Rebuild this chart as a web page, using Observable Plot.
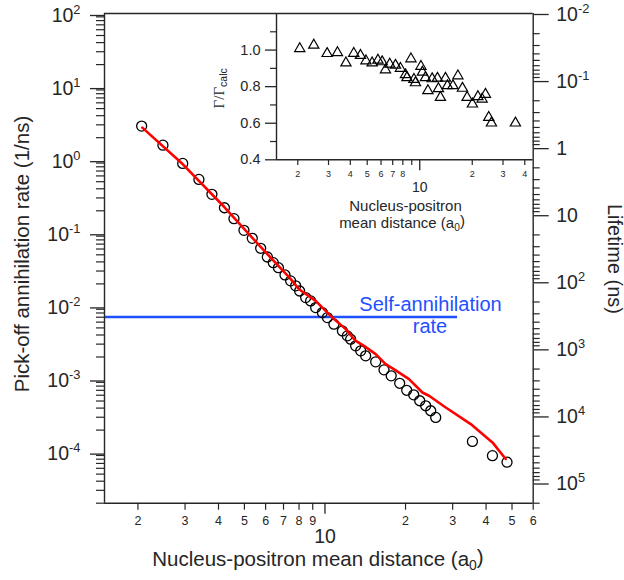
<!DOCTYPE html>
<html><head><meta charset="utf-8">
<script src="https://cdn.jsdelivr.net/npm/d3@7"></script>
<script src="https://cdn.jsdelivr.net/npm/@observablehq/plot@0.6"></script>
<style>
body{margin:0;background:#fff;}
#chart{position:relative;width:624px;height:580px;}
#chart svg{position:absolute;left:0;top:0;overflow:visible;}
</style></head><body><div id="chart"></div>
<script>
// ---------- data ----------
const distance = [2.065, 2.48, 2.94, 3.38, 3.78, 4.21, 4.57, 4.98, 5.35, 5.75, 6.09, 6.41, 6.70, 7.09, 7.44, 7.77, 8.04, 8.47, 8.84, 9.23, 9.78, 10.21, 10.80, 11.62, 12.12, 12.47, 13.02, 13.6, 14.19, 15.47, 16.62, 17.68, 19.02, 20.2, 21.46, 22.6, 23.79, 24.84, 25.93, 35.56, 42.25, 47.9];
const pickoffRate = [2.88, 1.58, 0.89, 0.538, 0.336, 0.22, 0.156, 0.108, 0.0841, 0.0614, 0.0467, 0.039, 0.0333, 0.0265, 0.022, 0.0188, 0.016, 0.013, 0.0117, 0.00948, 0.0081, 0.00692, 0.00562, 0.00455, 0.00389, 0.00351, 0.00284, 0.00243, 0.002075, 0.001718, 0.001336, 0.001106, 0.000874, 0.000701, 0.000608, 0.000504, 0.00043, 0.000368, 0.000298, 0.00014, 0.0000893, 0.0000728];
const fitDistance = [2.077, 2.938, 4.206, 5.75, 7.44, 8.0, 9.23, 10.66, 11.95, 13.02, 13.99, 15.47, 16.86, 18.38, 20.61, 23.13, 24.48, 28.27, 35.05, 42.25, 47.37];
const fitRate = [2.745, 0.871, 0.2252, 0.064, 0.0234, 0.0169, 0.0117, 0.00692, 0.00481, 0.00333, 0.00284, 0.00219, 0.0016, 0.001315, 0.000997, 0.000654, 0.00059, 0.000408, 0.000242, 0.0001357, 0.0000805];
const ratioDistance = [2.053, 2.47, 2.946, 3.376, 3.776, 4.186, 4.573, 4.917, 5.336, 5.761, 6.088, 6.36, 6.73, 7.26, 7.75, 8.28, 8.905, 8.45, 9.265, 9.45, 10.16, 10.36, 10.78, 11.14, 11.78, 12.63, 12.8, 13.14, 14.04, 14.41, 15.5, 16.55, 17.57, 18.69, 20.04, 21.55, 22.78, 23.8, 24.86, 25.76, 35.35];
const ratio = [1.008, 1.027, 0.981, 0.986, 0.930, 0.982, 0.971, 0.941, 0.930, 0.945, 0.936, 0.892, 0.923, 0.917, 0.900, 0.865, 0.952, 0.849, 0.840, 0.821, 0.911, 0.879, 0.849, 0.778, 0.843, 0.846, 0.789, 0.741, 0.846, 0.805, 0.805, 0.859, 0.791, 0.741, 0.705, 0.745, 0.732, 0.758, 0.632, 0.601, 0.601];
const selfAnnihilationRate = 0.00704;
const selfLineDistance = [1.5, 31.3];

const xDomain = [1.5, 60];
const yDomain = [2e-5, 100];
const lifetimeDomain = [0.01, 2e5];
const insetXDomain = [1.51, 44.7];
const insetYDomain = [0.4, 1.2];

const xMajorTicks = [10];
const xMinorTicks = [2, 3, 4, 5, 6, 7, 8, 9, 20, 30, 40, 50, 60];
const yMajorTicks = [1e-4, 1e-3, 1e-2, 1e-1, 1, 10, 100];
const lifetimeMajorTicks = [1e-2, 1e-1, 1, 10, 100, 1e3, 1e4, 1e5];
const insetXLabeled = [2, 3, 4, 5, 6, 7, 8, 20, 30, 40];
const insetXMinor = [2, 3, 4, 5, 6, 7, 8, 9, 20, 30, 40];
const insetXMajor = [10];
const insetYMajor = [0.4, 0.6, 0.8, 1.0];
const insetYMinor = [0.5, 0.7, 0.9, 1.1];

const xLabel = ["Nucleus-positron mean distance (a", "0", ")"];
const yLabel = "Pick-off annihilation rate (1/ns)";
const y2Label = "Lifetime (ns)";
const selfLabel = ["Self-annihilation", "rate"];
const insetXLabel = ["Nucleus-positron", "mean distance (a", "0", ")"];

// ---------- helpers ----------
function minorLogTicks(lo, hi) {
  const out = [];
  for (let e = Math.floor(Math.log10(lo)) - 1; e <= Math.ceil(Math.log10(hi)); e++)
    for (let m = 2; m <= 9; m++) { const v = m * Math.pow(10, e); if (v >= lo * 0.999 && v <= hi * 1.001) out.push(v); }
  return out;
}
const pow10 = d => "10^" + Math.round(Math.log10(d));
const mantissa = d => String(Math.round(d / Math.pow(10, Math.floor(Math.log10(d) + 1e-9))));
function superscripts(svg) {
  d3.select(svg).selectAll("text").each(function () {
    const t = this.textContent, i = t.indexOf("^");
    if (i < 0) return;
    const s = d3.select(this); s.text(null);
    s.append("tspan").text(t.slice(0, i));
    s.append("tspan").attr("dy", "-0.62em").attr("font-size", "0.66em").text(t.slice(i + 1));
  });
}

const FONT = '"Liberation Sans", Arial, Helvetica, sans-serif';
const INK = "#262626";
const BLUE = "#1f50ff";
const W = 624, H = 580;
const M = {left: 104, right: 91.3, top: 13, bottom: 77.3};

const circles = distance.map((d, i) => ({x: d, y: pickoffRate[i]}));
const fit = fitDistance.map((d, i) => ({x: d, y: fitRate[i]}));
const tri = ratioDistance.map((d, i) => ({x: d, y: ratio[i]}));

// ---------- main chart ----------
const main = Plot.plot({
  width: W, height: H,
  marginLeft: M.left, marginRight: M.right, marginTop: M.top, marginBottom: M.bottom,
  style: {background: "transparent", fontFamily: FONT, color: INK, overflow: "visible"},
  x: {type: "log", domain: xDomain},
  y: {type: "log", domain: yDomain},
  marks: [
    Plot.ruleY([selfAnnihilationRate], {x1: selfLineDistance[0], x2: selfLineDistance[1], stroke: BLUE, strokeWidth: 2.6}),
    Plot.dot(circles, {x: "x", y: "y", r: 5, stroke: "#000", strokeWidth: 1.3, fill: "none"}),
    Plot.line(fit, {x: "x", y: "y", stroke: "#ff0000", strokeWidth: 2.6}),
    Plot.ruleX([xDomain[0]], {stroke: INK, strokeWidth: 1.4}),
    Plot.ruleY([yDomain[0]], {stroke: INK, strokeWidth: 1.4}),
    Plot.ruleY([yDomain[1]], {stroke: INK, strokeWidth: 1.4}),
    // minor log ticks (left, bottom)
    Plot.ruleY(minorLogTicks(yDomain[0], yDomain[1]), {y: d => d, x1: xDomain[0], x2: xDomain[0], insetLeft: -8, stroke: INK, strokeWidth: 1.2}),
    Plot.ruleX(xMinorTicks, {x: d => d, y1: yDomain[0], y2: yDomain[0], insetBottom: -7, stroke: INK, strokeWidth: 1.2}),
    Plot.text(xMinorTicks, {x: d => d, y: yDomain[0], text: mantissa, dy: 13, lineAnchor: "top", fontSize: 12.5, fill: INK}),
    Plot.axisY(yMajorTicks, {anchor: "left", tickSize: 14, tickPadding: 10, fontSize: 19.5, dy: 2, tickFormat: pow10, strokeWidth: 1.3, label: null}),
    Plot.axisX(xMajorTicks, {anchor: "bottom", tickSize: 11, tickPadding: 15, fontSize: 19.5, tickFormat: d => String(d), strokeWidth: 1.3, label: null})
  ]
});

// ---------- right axis (lifetime) ----------
const right = Plot.plot({
  width: W, height: H,
  marginLeft: M.left, marginRight: M.right, marginTop: M.top, marginBottom: M.bottom,
  style: {background: "transparent", fontFamily: FONT, color: INK, overflow: "visible"},
  x: {type: "log", domain: xDomain, axis: null},
  y: {type: "log", domain: lifetimeDomain, reverse: true},
  marks: [
    Plot.ruleX([xDomain[1]], {stroke: INK, strokeWidth: 1.4}),
    Plot.ruleY(minorLogTicks(lifetimeDomain[0], lifetimeDomain[1]), {y: d => d, x1: xDomain[1], x2: xDomain[1], insetRight: -7, stroke: INK, strokeWidth: 1.2}),
    Plot.axisY(lifetimeMajorTicks, {anchor: "right", tickSize: 15, tickPadding: 8, fontSize: 19.5, dy: 1, strokeWidth: 1.3, label: null,
      tickFormat: d => d === 1 ? "1" : d === 10 ? "10" : pow10(d)})
  ]
});

// ---------- inset ----------
const inset = Plot.plot({
  width: W, height: H,
  marginLeft: 276, marginRight: M.right, marginTop: M.top, marginBottom: 420.7,
  style: {background: "transparent", fontFamily: FONT, color: INK, overflow: "visible"},
  x: {type: "log", domain: insetXDomain},
  y: {type: "linear", domain: insetYDomain},
  marks: [
    Plot.ruleX([insetXDomain[0]], {stroke: INK, strokeWidth: 1.4}),
    Plot.ruleY([insetYDomain[0]], {stroke: INK, strokeWidth: 1.4}),
    Plot.dot(tri, {x: "x", y: "y", symbol: "triangle", r: 3.8, stroke: "#000", strokeWidth: 1.2, fill: "none"}),
    Plot.axisY(insetYMinor, {anchor: "left", tickSize: 6, tickFormat: () => "", strokeWidth: 1.2, label: null}),
    Plot.axisY(insetYMajor, {anchor: "left", tickSize: 11, tickPadding: 5, fontSize: 14.5, tickFormat: d3.format(".1f"), strokeWidth: 1.3, label: null}),
    Plot.ruleX(insetXMinor, {x: d => d, y1: insetYDomain[0], y2: insetYDomain[0], insetBottom: -5.7, stroke: INK, strokeWidth: 1.2}),
    Plot.text(insetXLabeled, {x: d => d, y: insetYDomain[0], text: mantissa, dy: 11.2, lineAnchor: "top", fontSize: 9, fill: INK}),
    Plot.axisX(insetXMajor, {anchor: "bottom", tickSize: 11, tickPadding: 11, fontSize: 14, tickFormat: d => String(d), strokeWidth: 1.3, label: null})
  ]
});

const chart = document.getElementById("chart");
[main, right, inset].forEach(s => { superscripts(s); chart.appendChild(s); });
right.style.pointerEvents = "none"; inset.style.pointerEvents = "none";

// ---------- titles / annotations ----------
const g = d3.select(main).append("g").attr("font-family", FONT).attr("fill", INK);
const xl = g.append("text").attr("x", 318).attr("y", 566).attr("text-anchor", "middle").attr("font-size", 20.5);
xl.append("tspan").text(xLabel[0]);
xl.append("tspan").attr("dy", "0.3em").attr("font-size", "0.68em").text(xLabel[1]);
xl.append("tspan").attr("dy", "-0.3em").text(xLabel[2]);
g.append("text").attr("transform", "translate(29,254) rotate(-90)").attr("text-anchor", "middle").attr("font-size", 20.5).text(yLabel);
d3.select(right).append("text").attr("font-family", FONT).attr("fill", INK)
  .attr("transform", "translate(608,259) rotate(90)").attr("text-anchor", "middle").attr("font-size", 20).text(y2Label);
g.append("text").attr("x", 430.5).attr("y", 310.5).attr("text-anchor", "middle").attr("font-size", 20).attr("fill", BLUE).text(selfLabel[0]);
g.append("text").attr("x", 430).attr("y", 333.3).attr("text-anchor", "middle").attr("font-size", 20).attr("fill", BLUE).text(selfLabel[1]);

const gi = d3.select(inset).append("g").attr("font-family", FONT).attr("fill", INK);
gi.append("text").attr("x", 405.5).attr("y", 211).attr("text-anchor", "middle").attr("font-size", 15).text(insetXLabel[0]);
const il = gi.append("text").attr("x", 402).attr("y", 227.5).attr("text-anchor", "middle").attr("font-size", 15);
il.append("tspan").text(insetXLabel[1]);
il.append("tspan").attr("dy", "0.3em").attr("font-size", "0.68em").text(insetXLabel[2]);
il.append("tspan").attr("dy", "-0.3em").text(insetXLabel[3]);
const gl = gi.append("text").attr("transform", "translate(224,88.3) rotate(-90)").attr("text-anchor", "middle");
gl.append("tspan").attr("font-family", '"Liberation Serif", "Times New Roman", serif').attr("font-size", 15).text("Γ/Γ");
gl.append("tspan").attr("font-size", 10.5).attr("dy", "0.3em").text("calc");
</script>
</body></html>
